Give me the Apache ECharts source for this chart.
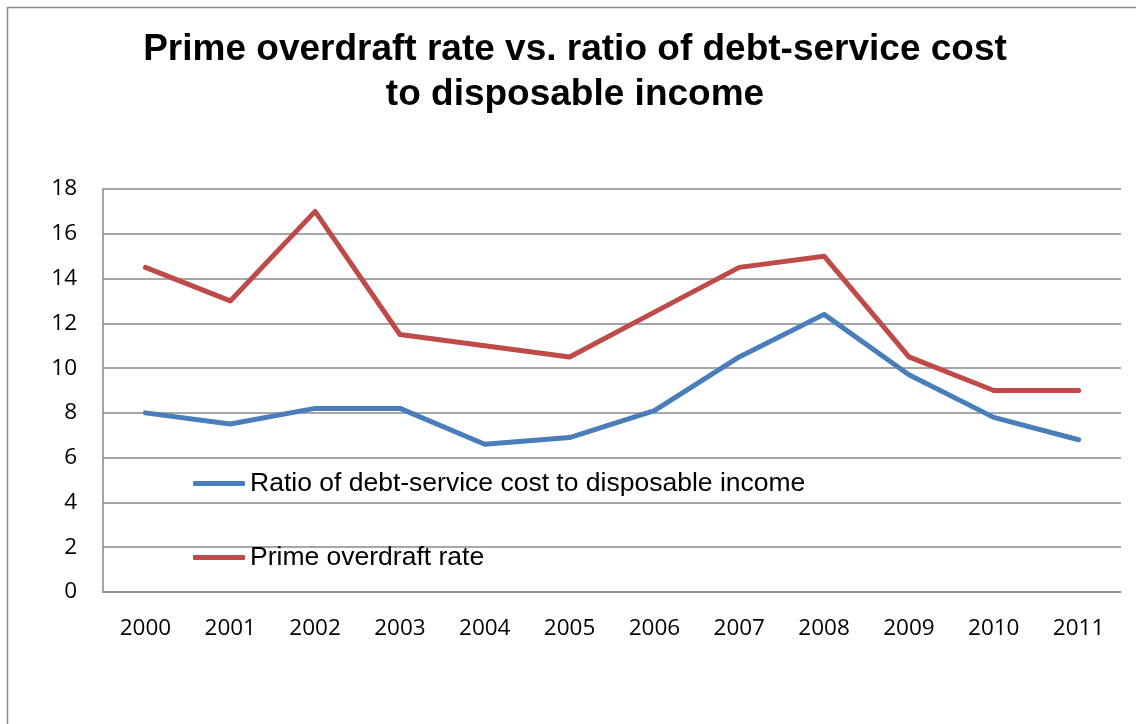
<!DOCTYPE html>
<html>
<head>
<meta charset="utf-8">
<script src="https://cdn.jsdelivr.net/npm/echarts@6/dist/echarts.min.js"></script>
<style>
html,body{margin:0;padding:0;background:#fff;}
#chart{width:1136px;height:724px;}
</style>
</head>
<body>
<div id="chart"></div>
<script>
const titleText = 'Prime overdraft rate vs. ratio of debt-service cost\nto disposable income';
const years = ['2000','2001','2002','2003','2004','2005','2006','2007','2008','2009','2010','2011'];
const ratioName = 'Ratio of debt-service cost to disposable income';
const ratioValues = [8.0, 7.5, 8.2, 8.2, 6.6, 6.9, 8.1, 10.5, 12.4, 9.7, 7.8, 6.8];
const primeName = 'Prime overdraft rate';
const primeValues = [14.5, 13.0, 17.0, 11.5, 11.0, 10.5, 12.5, 14.5, 15.0, 10.5, 9.0, 9.0];

const chart = echarts.init(document.getElementById('chart'), null, {renderer: 'canvas'});
const axisFont = '"Open Sans", sans-serif';
const legendText = {fontFamily: '"Liberation Sans", Arial, sans-serif', fontSize: 26.5, color: '#000'};
const option = {
  animation: false,
  backgroundColor: '#ffffff',
  graphic: [{
    type: 'rect',
    shape: {x: 7.5, y: 7.5, width: 1140, height: 740},
    style: {fill: 'none', stroke: '#8c8c8c', lineWidth: 1.5},
    silent: true
  }],
  title: {
    text: titleText,
    left: 575,
    top: 27,
    padding: 0,
    textAlign: 'center',
    textStyle: {
      fontFamily: '"Liberation Sans", Arial, sans-serif',
      fontSize: 37,
      fontWeight: 'bold',
      color: '#000',
      lineHeight: 45
    }
  },
  legend: [{
    data: [{name: ratioName, icon: 'roundRect'}],
    left: 193,
    top: 470,
    padding: 0,
    itemWidth: 52,
    itemHeight: 5,
    textStyle: legendText
  }, {
    data: [{name: primeName, icon: 'roundRect'}],
    left: 193,
    top: 544,
    padding: 0,
    itemWidth: 52,
    itemHeight: 5,
    textStyle: legendText
  }],
  grid: {left: 103, right: 15, top: 189, bottom: 132, containLabel: false},
  xAxis: {
    type: 'category',
    data: years,
    boundaryGap: true,
    axisLine: {show: true, lineStyle: {color: '#888', width: 1.5}},
    axisTick: {show: false},
    axisLabel: {fontFamily: axisFont, fontSize: 22.5, color: '#000', margin: 25}
  },
  yAxis: {
    type: 'value',
    min: 0,
    max: 18,
    interval: 2,
    axisLine: {show: true, lineStyle: {color: '#888', width: 1.5}},
    axisTick: {show: false},
    splitLine: {show: true, lineStyle: {color: '#888', width: 1.5}},
    axisLabel: {fontFamily: axisFont, fontSize: 22.5, color: '#000', margin: 26}
  },
  series: [{
    name: ratioName,
    type: 'line',
    data: ratioValues,
    symbol: 'none',
    color: '#4a7ebb',
    lineStyle: {width: 5, color: '#4a7ebb', cap: 'round', join: 'round'}
  }, {
    name: primeName,
    type: 'line',
    data: primeValues,
    symbol: 'none',
    color: '#be4b48',
    lineStyle: {width: 5, color: '#be4b48', cap: 'round', join: 'round'}
  }]
};
chart.setOption(option);
</script>
</body>
</html>
